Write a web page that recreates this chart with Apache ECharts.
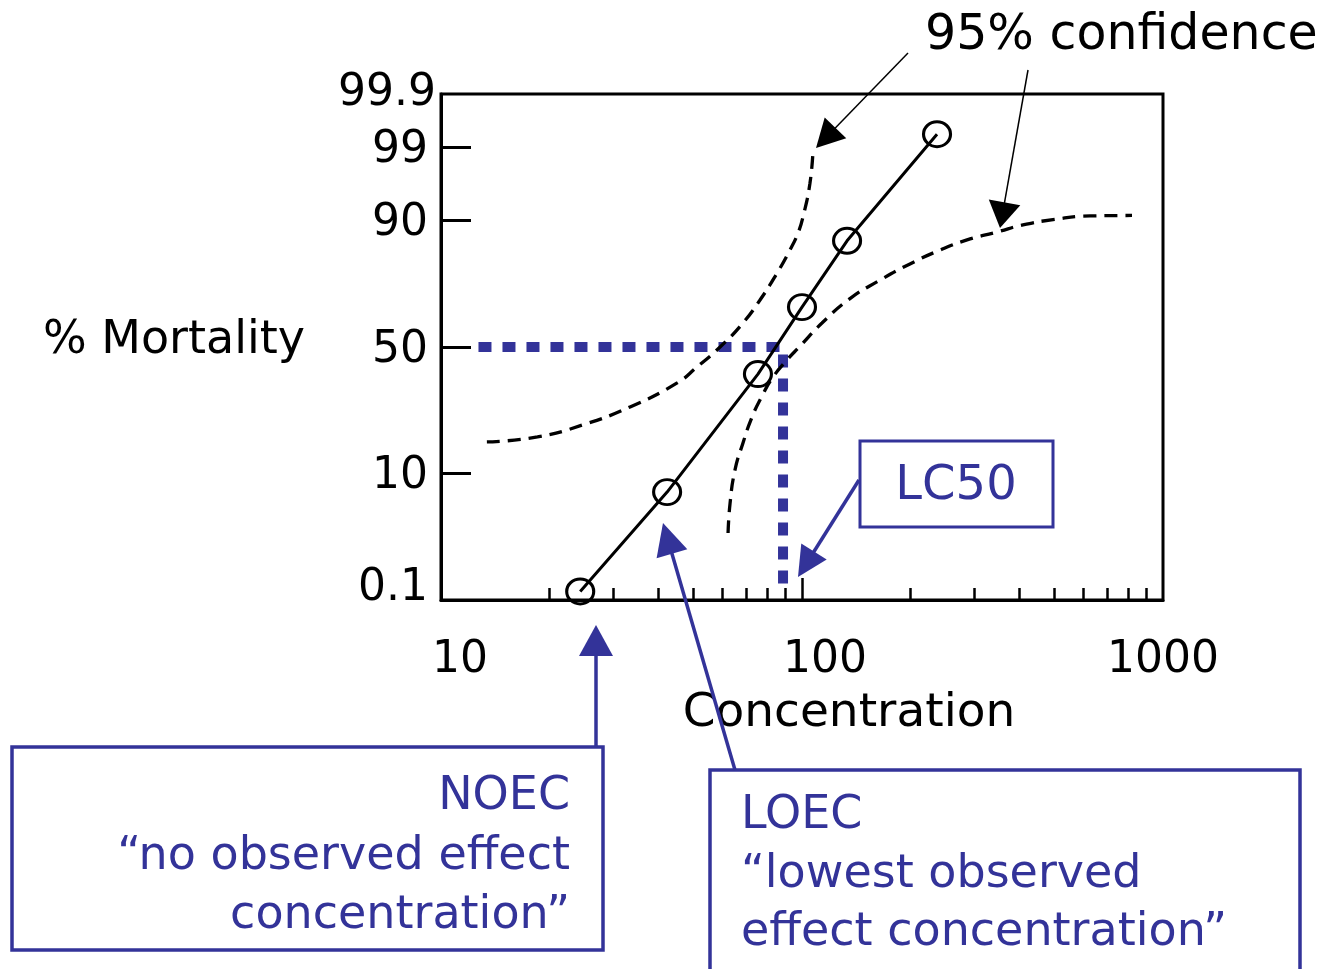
<!DOCTYPE html>
<html><head><meta charset="utf-8">
<script src="https://cdn.jsdelivr.net/npm/echarts@6/dist/echarts.min.js"></script>
<style>html,body{margin:0;padding:0;background:#fff}#c{width:1329px;height:969px}</style>
</head><body><div id="c"></div>
<script>
// ---------------- data ----------------
// probability (probit-like) axis: tick percentages and their positions on the drawn scale (0..100)
const yTickPct    = [0.1, 1, 10, 50, 90, 99, 99.9];
const yTickLabels = ['0.1', '1', '10', '50', '90', '99', '99.9'];
const yTickScale  = [0, 10.5, 25, 50, 75, 89.5, 100];

const xLabelValues = [10, 100, 1000];
const xLabelTexts  = ['10', '100', '1000'];
const xMinorTicks  = [20, 30, 40, 50, 60, 70, 80, 90, 200, 300, 400, 500, 600, 700, 800, 900];
const xMajorTicks  = [100];

// observed mortality
const concentration = [24.3, 42.3, 75.5, 100, 133.3, 236.6];
const mortality     = [0.15, 6.1, 39.2, 65.7, 85.9, 99.4];

// 95% confidence band (left = lower concentration limit, right = upper concentration limit)
const ciLeftConc  = [13.4, 18.5, 24.7, 33.4, 45.1, 51.2, 59.3, 68.6, 76.5, 85.3, 92.6, 97.5, 100.6, 105.2, 107.3];
const ciLeftMort  = [16.8, 18.1, 21.5, 27.2, 35.8, 42.0, 50.0, 59.6, 68.3, 77.3, 83.7, 87.6, 90.8, 96.5, 98.9];
const ciRightConc = [62.4, 63.2, 65.2, 68.6, 72.7, 77.5, 82.6, 90.9, 98.7, 113.6, 135.8, 164.5, 199.1, 241.2, 286.5, 346.9, 409.5, 495.8, 627.9, 820.6];
const ciRightMort = [1.66, 4.4, 10.6, 16.5, 23.9, 31.0, 37.5, 44.8, 50.3, 59.6, 68.8, 75.1, 80.0, 83.7, 86.1, 87.8, 89.2, 90.2, 91.1, 91.2];

// LC50 guide
const lc50Conc = 88.6;
const lc50Mort = 50;
const lc50GuideFromConc = 12.7;
const lc50GuideToMort = 0.2;

// ---------------- scale helpers ----------------
function probit(p) {
  const a=[-3.969683028665376e+01,2.209460984245205e+02,-2.759285104469687e+02,1.383577518672690e+02,-3.066479806614716e+01,2.506628277459239e+00];
  const b=[-5.447609879822406e+01,1.615858368580409e+02,-1.556989798598866e+02,6.680131188771972e+01,-1.328068155288572e+01];
  const c=[-7.784894002430293e-03,-3.223964580411365e-01,-2.400758277161838e+00,-2.549732539343734e+00,4.374664141464968e+00,2.938163982698783e+00];
  const d=[7.784695709041462e-03,3.224671290700398e-01,2.445134137142996e+00,3.754408661907416e+00];
  const pl=0.02425, ph=1-pl; let q, r;
  if (p < pl) { q=Math.sqrt(-2*Math.log(p)); return (((((c[0]*q+c[1])*q+c[2])*q+c[3])*q+c[4])*q+c[5])/((((d[0]*q+d[1])*q+d[2])*q+d[3])*q+1); }
  if (p <= ph) { q=p-0.5; r=q*q; return (((((a[0]*r+a[1])*r+a[2])*r+a[3])*r+a[4])*r+a[5])*q/(((((b[0]*r+b[1])*r+b[2])*r+b[3])*r+b[4])*r+1); }
  q=Math.sqrt(-2*Math.log(1-p)); return -(((((c[0]*q+c[1])*q+c[2])*q+c[3])*q+c[4])*q+c[5])/((((d[0]*q+d[1])*q+d[2])*q+d[3])*q+1);
}
const yTickZ = yTickPct.map(p => probit(p / 100));
function scaleY(pct) {
  const z = probit(pct / 100);
  let i = 0;
  while (i < yTickZ.length - 2 && z > yTickZ[i + 1]) i++;
  const t = (z - yTickZ[i]) / (yTickZ[i + 1] - yTickZ[i]);
  return yTickScale[i] + t * (yTickScale[i + 1] - yTickScale[i]);
}
const lx = Math.log10;
const pts = (cs, ms) => cs.map((c, i) => [lx(c), scaleY(ms[i])]);

// ---------------- chart ----------------
const FONT = 'DejaVu Sans';
const BLUE = '#333399';
const chart = echarts.init(document.getElementById('c'), null, { renderer: 'canvas' });

const xRich = { x0: { padding: [0, 0, 0, 38] }, x1: { padding: [0, 0, 0, 46] }, x2: { padding: [0, 0, 0, 0] } };
const yRich = { yn: { padding: [7, 8, 0, 0] }, yb: { padding: [0, 8, 22, 0] }, yt: { padding: [0, 0, 0, 0] } };

function arrow(x1, y1, x2, y2, color, width, headLen, headHalf) {
  const dx = x2 - x1, dy = y2 - y1, L = Math.hypot(dx, dy);
  const ux = dx / L, uy = dy / L, px = -uy, py = ux;
  const bx = x2 - ux * headLen, by = y2 - uy * headLen;
  return [
    { type: 'line', z: 100, shape: { x1, y1, x2: bx + ux * 2, y2: by + uy * 2 }, style: { stroke: color, lineWidth: width } },
    { type: 'polygon', z: 100, shape: { points: [[x2, y2], [bx + px * headHalf, by + py * headHalf], [bx - px * headHalf, by - py * headHalf]] }, style: { fill: color } }
  ];
}

const option = {
  animation: false,
  backgroundColor: '#fff',
  grid: { left: 441, right: 166, top: 94, bottom: 369, show: true, borderColor: '#000', borderWidth: 3, backgroundColor: 'transparent', outerBoundsMode: 'none' },
  xAxis: [{
    type: 'value', min: 1, max: 3, position: 'bottom',
    axisLine: { show: true, onZero: false, lineStyle: { color: '#000', width: 3 } },
    axisTick: { show: true, inside: true, length: 12, customValues: xMinorTicks.map(lx), lineStyle: { color: '#000', width: 2.5 } },
    axisLabel: {
      customValues: xLabelValues.map(lx), margin: 39, color: '#000', fontSize: 44, fontFamily: FONT,
      showMinLabel: true, showMaxLabel: true,
      formatter: v => { const i = xLabelValues.findIndex(x => Math.abs(lx(x) - v) < 1e-6); return '{x' + i + '|' + xLabelTexts[i] + '}'; },
      rich: xRich
    },
    splitLine: { show: false },
    name: 'Concentration', nameLocation: 'middle', nameGap: 89,
    nameTextStyle: { color: '#000', fontSize: 47, fontFamily: FONT, lineHeight: 50, padding: [0, 0, 0, 94] }
  }, {
    type: 'value', min: 1, max: 3, position: 'bottom',
    axisLine: { show: false, onZero: false },
    axisTick: { show: true, inside: true, length: 22, customValues: xMajorTicks.map(lx), lineStyle: { color: '#000', width: 2.5 } },
    axisLabel: { show: false }, splitLine: { show: false }
  }],
  yAxis: {
    type: 'value', min: yTickScale[0], max: yTickScale[yTickScale.length - 1],
    axisLine: { show: true, onZero: false, lineStyle: { color: '#000', width: 3 } },
    axisTick: { show: true, inside: true, length: 30, customValues: yTickScale.slice(1, -1), lineStyle: { color: '#000', width: 3 } },
    axisLabel: {
      customValues: yTickScale, margin: 5, color: '#000', fontSize: 44, fontFamily: FONT,
      showMinLabel: true, showMaxLabel: true, hideOverlap: false,
      formatter: v => {
        const i = yTickScale.findIndex(s => Math.abs(s - v) < 1e-6);
        const key = i === 0 ? 'yb' : (i === yTickScale.length - 1 ? 'yt' : 'yn');
        return '{' + key + '|' + yTickLabels[i] + '}';
      },
      rich: yRich
    },
    splitLine: { show: false },
    name: '{m|% Mortality}', nameLocation: 'middle', nameGap: 136, nameRotate: 0,
    nameTextStyle: { color: '#000', fontSize: 46, fontFamily: FONT, align: 'right', verticalAlign: 'middle',
      rich: { m: { color: '#000', fontSize: 46, fontFamily: FONT, padding: [0, 0, 12, 0] } } }
  },
  series: [
    {
      name: 'LC50', type: 'line', xAxisIndex: 0, symbol: 'none', clip: false, z: 2,
      data: [[lx(lc50GuideFromConc), scaleY(lc50Mort)], [lx(lc50Conc), scaleY(lc50Mort)], [lx(lc50Conc), scaleY(lc50GuideToMort)]],
      lineStyle: { color: BLUE, width: 10, type: [13, 11], cap: 'butt', join: 'miter' }
    },
    {
      name: 'CI lower', type: 'line', xAxisIndex: 0, symbol: 'none', smooth: 0.5, clip: false, z: 3,
      data: pts(ciLeftConc, ciLeftMort),
      lineStyle: { color: '#000', width: 3.3, type: [13, 8] }
    },
    {
      name: 'CI upper', type: 'line', xAxisIndex: 0, symbol: 'none', smooth: 0.5, clip: false, z: 3,
      data: pts(ciRightConc, ciRightMort),
      lineStyle: { color: '#000', width: 3.3, type: [13, 8] }
    },
    {
      name: 'Mortality', type: 'line', xAxisIndex: 0, clip: false, z: 4,
      data: pts(concentration, mortality),
      symbol: 'circle', symbolSize: [27, 25],
      itemStyle: { color: 'rgba(255,255,255,0)', borderColor: '#000', borderWidth: 3 },
      lineStyle: { color: '#000', width: 3 }
    }
  ],
  graphic: [
    { type: 'text', z: 100, style: { text: '95% confidence', x: 925, y: 36, fill: '#000', font: '49px "' + FONT + '"', align: 'left', verticalAlign: 'middle' } },
    ...arrow(908, 53, 816, 148, '#000', 1.5, 28, 15),
    ...arrow(1028, 70, 1000, 228, '#000', 1.5, 26, 16),
    { type: 'rect', z: 100, shape: { x: 860, y: 441, width: 193, height: 86 }, style: { fill: 'none', stroke: BLUE, lineWidth: 3 } },
    { type: 'text', z: 100, style: { text: 'LC50', x: 956, y: 487, fill: BLUE, font: '48px "' + FONT + '"', align: 'center', verticalAlign: 'middle' } },
    ...arrow(859, 480, 798, 577, BLUE, 3.5, 30, 15),
    { type: 'rect', z: 100, shape: { x: 12, y: 747, width: 591, height: 203 }, style: { fill: 'none', stroke: BLUE, lineWidth: 3.5 } },
    { type: 'text', z: 100, style: { text: 'NOEC\n\u201cno observed effect\nconcentration\u201d', x: 570, y: 857, fill: BLUE, font: '46px "' + FONT + '"', lineHeight: 59.5, align: 'right', verticalAlign: 'middle' } },
    ...arrow(596, 747, 596, 625, BLUE, 3.5, 31, 17),
    { type: 'rect', z: 100, shape: { x: 710, y: 770, width: 590, height: 240 }, style: { fill: 'none', stroke: BLUE, lineWidth: 3.5 } },
    { type: 'text', z: 100, style: { text: 'LOEC\n\u201clowest observed\neffect concentration\u201d', x: 741, y: 875, fill: BLUE, font: '46px "' + FONT + '"', lineHeight: 58.5, align: 'left', verticalAlign: 'middle' } },
    ...arrow(735, 770, 663, 523, BLUE, 3.5, 32, 16)
  ]
};
chart.setOption(option);
</script>
</body></html>
